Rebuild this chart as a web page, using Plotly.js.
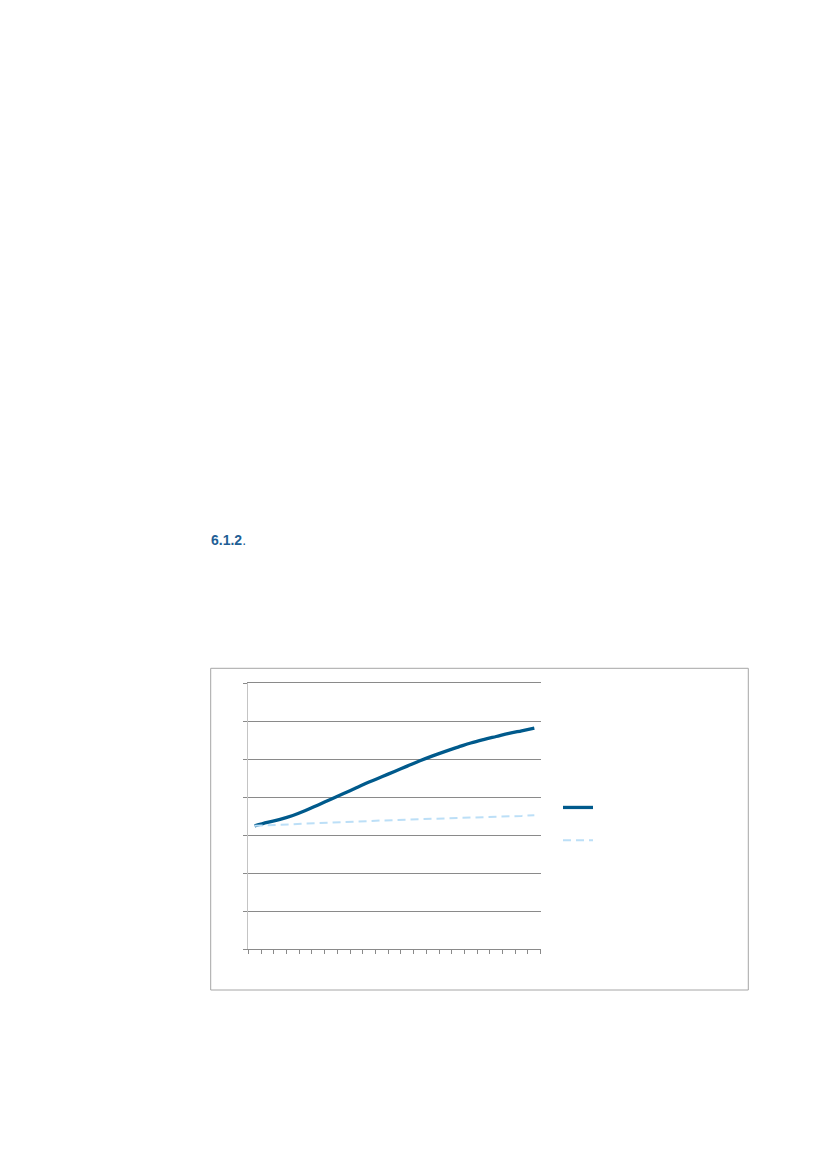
<!DOCTYPE html>
<html>
<head>
<meta charset="utf-8">
<script src="https://cdn.plot.ly/plotly-3.0.1.min.js"></script>
<style>
  html, body { margin: 0; padding: 0; background: #fff; }
  #chart { width: 827px; height: 1169px; }
</style>
</head>
<body>
<div id="chart"></div>
<script>
// 23 periods on the x axis, labels not visible in the source
var periods = ['1','2','3','4','5','6','7','8','9','10','11','12','13','14','15','16','17','18','19','20','21','22','23']

// values (one gridline = 1 unit)
var mainSeries = [3.25, 3.34, 3.42, 3.52, 3.65, 3.80, 3.95, 4.10, 4.25, 4.40, 4.54, 4.68,
                  4.82, 4.96, 5.09, 5.21, 5.32, 5.43, 5.52, 5.60, 5.68, 5.75, 5.82]
var baseSeries = [3.25, 3.26, 3.28, 3.29, 3.31, 3.32, 3.33, 3.35, 3.36, 3.37, 3.39, 3.40,
                  3.41, 3.42, 3.43, 3.44, 3.45, 3.47, 3.48, 3.49, 3.50, 3.51, 3.53]

var W = 827, H = 1169
const px = (x) => x / W
const py = (y) => 1 - y / H

var data = [
  {
    x: periods,
    y: mainSeries,
    mode: 'lines',
    name: ' ',
    line: { color: '#005a8c', width: 3.3, shape: 'spline', smoothing: 1 }
  },
  {
    x: periods,
    y: baseSeries,
    mode: 'lines',
    name: ' ',
    line: { color: '#bcdff7', width: 2, dash: '8px,5px' }
  }
]

var layout = {
  width: W,
  height: H,
  margin: { l: 0, r: 0, t: 0, b: 0 },
  paper_bgcolor: '#ffffff',
  plot_bgcolor: '#ffffff',
  font: { family: 'Liberation Sans, Arial, sans-serif', color: '#333' },
  showlegend: true,
  legend: {
    x: px(558),
    y: py(786),
    xanchor: 'left',
    yanchor: 'top',
    bgcolor: 'rgba(0,0,0,0)',
    font: { size: 23 },
    tracegroupgap: 0
  },
  xaxis: {
    domain: [px(248.3), px(540.7)],
    type: 'category',
    range: [-0.5, 22.5],
    tickmode: 'linear',
    tick0: 0,
    dtick: 1,
    showticklabels: false,
    showgrid: false,
    showline: true,
    mirror: true,
    linecolor: '#8a8a8a',
    linewidth: 1,
    ticks: 'outside',
    tickson: 'boundaries',
    ticklen: 4,
    tickcolor: '#8a8a8a',
    fixedrange: true
  },
  yaxis: {
    domain: [py(949.3), py(683.3)],
    range: [0, 7],
    dtick: 1,
    showticklabels: false,
    showgrid: true,
    gridcolor: '#8a8a8a',
    gridwidth: 1,
    zeroline: false,
    showline: true,
    linecolor: '#c4c4c4',
    linewidth: 1,
    ticks: 'outside',
    ticklen: 4,
    tickcolor: '#8a8a8a',
    fixedrange: true
  },
  shapes: [
    {
      type: 'rect', xref: 'paper', yref: 'paper',
      x0: px(210.7), x1: px(748.3), y0: py(990), y1: py(668.3),
      line: { color: '#a6a6a6', width: 1 },
      layer: 'below'
    }
  ],
  annotations: [
    {
      xref: 'paper', yref: 'paper',
      x: px(209), y: py(540),
      xanchor: 'left', yanchor: 'middle',
      showarrow: false,
      text: '<b>6.1.2</b>.',
      font: { size: 14, color: '#1f5f96', family: 'Liberation Sans, Arial, sans-serif' }
    }
  ]
}

Plotly.newPlot('chart', data, layout, { displayModeBar: false, staticPlot: true })
</script>
</body>
</html>
